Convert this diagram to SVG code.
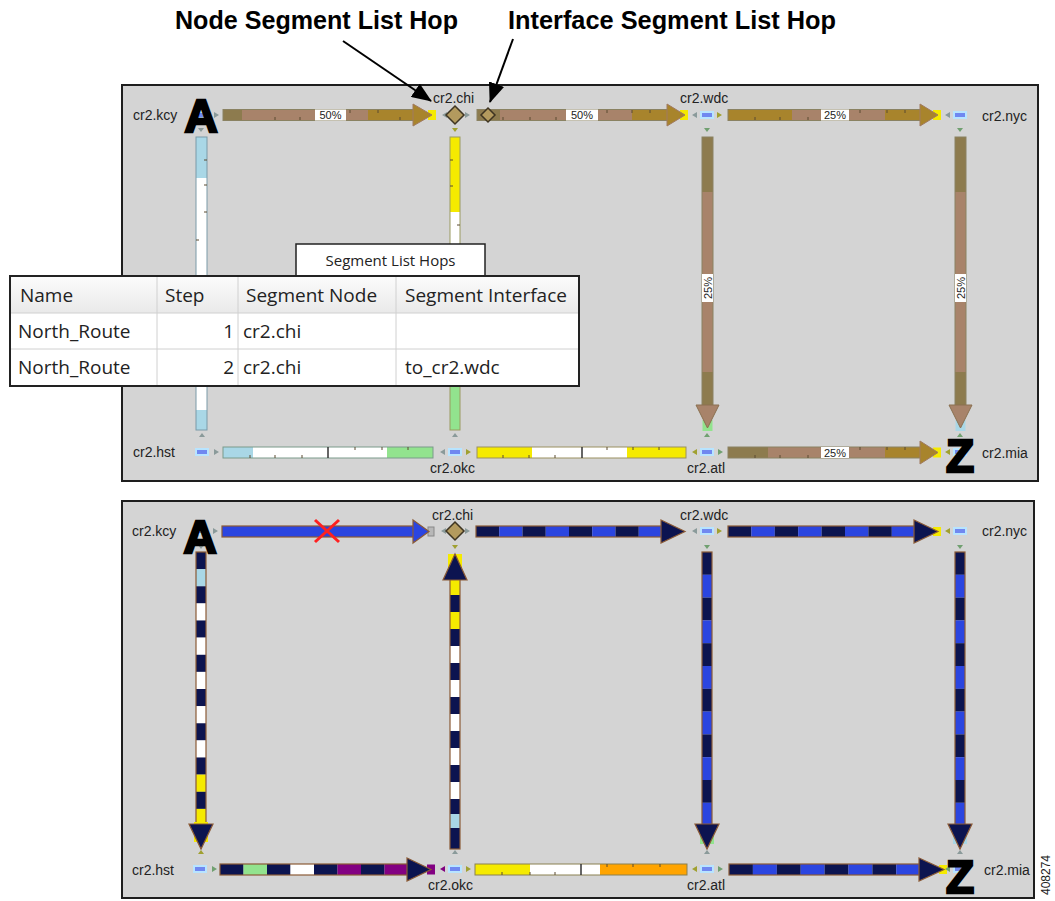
<svg xmlns="http://www.w3.org/2000/svg" width="1055" height="901" viewBox="0 0 1055 901">
<defs>
<style>
.panel{fill:#d4d4d4;stroke:#1e1e1e;stroke-width:2}
.lbl{font-family:"Liberation Sans",Tahoma,Arial,sans-serif;font-size:14px;fill:#222}
.title{font-family:"Liberation Sans",Arial,sans-serif;font-weight:bold;font-size:26px;fill:#000}
.big{font-family:"Liberation Sans",Arial,sans-serif;font-weight:bold;font-size:46px;fill:#000;stroke:#000;stroke-width:2.5;text-anchor:middle}
.pct{font-family:"Liberation Sans",Arial,sans-serif;font-size:11px;fill:#222;text-anchor:middle}
.pbox{fill:#fff}
.olv{fill:#8d7b4e}.rose{fill:#a8836a}.gold{fill:#a8842c}.ylw{fill:#f5ea00}.lb{fill:#a9d7e6}.wht{fill:#fff}.grn{fill:#92e38e}.nav{fill:#0c1450}.blu{fill:#2b45e0}.prp{fill:#820082}.org{fill:#ffa400}
.tubeT{fill:none;stroke:#8a8262;stroke-width:1}
.tubeB{fill:none;stroke:#8a5a36;stroke-width:1.2}
.hdB{stroke:#8a5a36;stroke-width:1.2}
.nd{fill:#7088f0;stroke:#b8e4ff;stroke-width:2}
.dia{fill:#b39a5e;stroke:#3e3422;stroke-width:1.5}
.mk{fill:#8a9a9a}
.mko{fill:#a0a030}
.mkg{fill:#70a070}
.tick{stroke:#5a4a30;stroke-width:1}
.div{stroke:#333;stroke-width:1.5}
.tb{font-family:"Open Sans","Liberation Sans",sans-serif;font-size:19px;fill:#222}
.grid{stroke:#d0d0d0;stroke-width:1}
.ann{stroke:#000;stroke-width:2;fill:none}
</style>
<marker id="ah" viewBox="0 0 20 16" markerWidth="20" markerHeight="16" refX="19" refY="8" orient="auto" markerUnits="userSpaceOnUse"><path d="M0,0 L20,8 L0,16 z" fill="#000"/></marker>
<linearGradient id="hdr" x1="0" y1="0" x2="0" y2="1"><stop offset="0" stop-color="#fbfbfb"/><stop offset="1" stop-color="#e9e9e9"/></linearGradient>
</defs>
<rect x="0" y="0" width="1055" height="901" fill="#fff"/>

<g id="annotations">
<text class="title" x="175" y="29" textLength="283" lengthAdjust="spacingAndGlyphs">Node Segment List Hop</text>
<text class="title" x="508" y="29" textLength="328" lengthAdjust="spacingAndGlyphs">Interface Segment List Hop</text>
</g>

<rect class="panel" x="122" y="85" width="916" height="396"/>
<rect class="panel" x="122" y="501" width="912" height="397"/>

<g id="connectors">
<!-- ===== TOP PANEL ===== -->
<rect class="olv" x="223" y="109.5" width="19" height="11"/>
<rect class="rose" x="242" y="109.5" width="126" height="11"/>
<rect class="gold" x="368" y="109.5" width="46" height="11"/>
<rect class="tubeT" x="223" y="109.5" width="191" height="11"/>
<rect class="ylw" x="428" y="110" width="8" height="10"/>
<path class="gold" d="M413,104 L432,115 L413,126 Z" stroke="#a07a60" stroke-width="1"/>
<path class="tick" d="M275,117v3M300,117v3M350,110v3M378,110v3M400,117v3"/>
<rect class="pbox" x="315" y="109.5" width="31" height="11"/><text class="pct" x="330.5" y="119">50%</text>
<rect class="olv" x="477" y="109.5" width="23" height="11"/>
<rect class="rose" x="500" y="109.5" width="132" height="11"/>
<rect class="gold" x="632" y="109.5" width="36" height="11"/>
<rect class="tubeT" x="477" y="109.5" width="191" height="11"/>
<rect class="ylw" x="680" y="110" width="8" height="10"/>
<path class="gold" d="M667,104 L685,115 L667,126 Z" stroke="#a07a60" stroke-width="1"/>
<path class="tick" d="M503,117v3M530,117v3M556,117v3M607,110v3M632,110v3M650,110v3"/>
<rect class="pbox" x="566" y="109.5" width="32" height="11"/><text class="pct" x="582" y="119">50%</text>
<rect class="gold" x="728" y="109.5" width="64" height="11"/>
<rect class="rose" x="792" y="109.5" width="93" height="11"/>
<rect class="gold" x="885" y="109.5" width="37" height="11"/>
<rect class="tubeT" x="728" y="109.5" width="194" height="11"/>
<rect class="ylw" x="933" y="110" width="8" height="10"/>
<path class="gold" d="M920,104 L938,115 L920,126 Z" stroke="#a07a60" stroke-width="1"/>
<path class="tick" d="M755,117v3M780,117v3M808,117v3M860,110v3M887,110v3M905,110v3"/>
<rect class="pbox" x="821" y="109.5" width="28" height="11"/><text class="pct" x="835" y="119">25%</text>
<rect class="lb" x="223" y="447" width="30" height="11"/>
<rect class="wht" x="253" y="447" width="134" height="11"/>
<rect class="grn" x="387" y="447" width="46" height="11"/>
<rect fill="none" stroke="#7a9a8a" stroke-width="1" x="223" y="447" width="210" height="11"/>
<path class="div" d="M328,447v11"/>
<path class="tick" d="M250,455v3M275,455v3M302,455v3M355,447v3M382,447v3M408,447v3"/>
<rect class="ylw" x="477" y="447" width="55" height="11"/>
<rect class="wht" x="532" y="447" width="95" height="11"/>
<rect class="ylw" x="627" y="447" width="59" height="11"/>
<rect fill="none" stroke="#9a9060" stroke-width="1" x="477" y="447" width="209" height="11"/>
<path class="div" d="M582,447v11"/>
<path class="tick" d="M503,455v3M529,455v3M555,455v3M607,447v3M633,447v3M659,447v3"/>
<rect class="olv" x="728" y="447" width="40" height="11"/>
<rect class="rose" x="768" y="447" width="117" height="11"/>
<rect class="gold" x="885" y="447" width="37" height="11"/>
<rect class="tubeT" x="728" y="447" width="194" height="11"/>
<rect class="ylw" x="933" y="447.5" width="8" height="10"/>
<path class="gold" d="M920,441 L938,452.5 L920,464 Z" stroke="#a07a60" stroke-width="1"/>
<path class="tick" d="M755,455v3M780,455v3M808,455v3M860,447v3M887,447v3M905,447v3"/>
<rect class="pbox" x="821" y="447" width="28" height="11"/><text class="pct" x="835" y="456.5">25%</text>
<rect class="lb" x="196" y="137" width="11" height="41"/>
<rect class="wht" x="196" y="178" width="11" height="232"/>
<rect class="lb" x="196" y="410" width="11" height="20"/>
<rect fill="none" stroke="#7a9aa8" stroke-width="1" x="196" y="137" width="11" height="293"/>
<path class="tick" d="M204,160h3M204,185h3M204,212h3M196,240h3"/>
<rect class="ylw" x="450" y="137" width="10" height="75"/>
<rect class="wht" x="450" y="212" width="10" height="90"/>
<rect class="grn" x="450" y="302" width="10" height="128"/>
<rect fill="none" stroke="#9a9a60" stroke-width="1" x="450" y="137" width="10" height="293"/>
<path class="tick" d="M450,160h3M450,186h3M457,225h3"/>
<rect class="olv" x="702" y="137" width="11" height="55"/>
<rect class="rose" x="702" y="192" width="11" height="180"/>
<rect class="olv" x="702" y="372" width="11" height="34"/>
<rect class="tubeT" x="702" y="137" width="11" height="269"/>
<rect class="grn" x="702.5" y="420" width="10" height="11"/>
<path class="rose" d="M696,405 L719,405 L707.5,428 Z" stroke="#8a7050" stroke-width="1"/>
<g transform="translate(707.5,288) rotate(-90)"><rect class="pbox" x="-14" y="-5.5" width="28" height="11"/><text class="pct" y="4">25%</text></g>
<rect class="olv" x="955" y="137" width="11" height="55"/>
<rect class="rose" x="955" y="192" width="11" height="180"/>
<rect class="olv" x="955" y="372" width="11" height="34"/>
<rect class="tubeT" x="955" y="137" width="11" height="269"/>
<rect class="lb" x="955.5" y="420" width="10" height="11"/>
<path class="rose" d="M949,405 L972,405 L960.5,428 Z" stroke="#8a7050" stroke-width="1"/>
<g transform="translate(960.5,288) rotate(-90)"><rect class="pbox" x="-14" y="-5.5" width="28" height="11"/><text class="pct" y="4">25%</text></g>
<path class="mk" d="M214,112L219,115L214,118Z M198,128h6l-3,4Z M442,115l5,-3v6Z M465,112l5,3l-5,3Z M692,115l5,-3v6Z M945,115l5,-3v6Z M199,437h6l-3,-4Z M214,449l5,3l-5,3Z M440,452l5,-3v6Z M452,437h6l-3,-4Z"/>
<path class="mko" d="M452,128h6l-3,4Z M717,112l5,3l-5,3Z M466,449l5,3l-5,3Z M692,452l5,-3v6Z M945,452l5,-3v6Z"/>
<path class="mkg" d="M704,128h6l-3,4Z M957,128h6l-3,4Z M718,449l5,3l-5,3Z M704,437h6l-3,-4Z M957,437h6l-3,-4Z"/>

<!-- ===== BOTTOM PANEL ===== -->
<rect class="blu" x="222" y="526" width="192" height="11"/>
<rect class="tubeB" x="222" y="526" width="192" height="11"/>
<rect x="428" y="527" width="6" height="9" fill="#b8b8b8" stroke="#888" stroke-width="1"/>
<path class="blu hdB" d="M413,520 L429,531.5 L413,543 Z"/>
<path d="M315,520 L339,542 M315,542 L339,520" stroke="#ff2020" stroke-width="3"/>
<rect class="nav" x="476" y="526" width="23.25" height="11"/><rect class="blu" x="499.25" y="526" width="23.25" height="11"/>
<rect class="nav" x="522.5" y="526" width="23.25" height="11"/><rect class="blu" x="545.75" y="526" width="23.25" height="11"/>
<rect class="nav" x="569" y="526" width="23.25" height="11"/><rect class="blu" x="592.25" y="526" width="23.25" height="11"/>
<rect class="nav" x="615.5" y="526" width="23.25" height="11"/><rect class="blu" x="638.75" y="526" width="23.25" height="11"/>
<rect class="tubeB" x="476" y="526" width="186" height="11"/>
<path class="nav hdB" d="M661,520 L685,531.5 L661,543 Z"/>
<rect class="nav" x="728" y="526" width="23.4" height="11"/><rect class="blu" x="751.4" y="526" width="23.4" height="11"/>
<rect class="nav" x="774.8" y="526" width="23.4" height="11"/><rect class="blu" x="798.2" y="526" width="23.4" height="11"/>
<rect class="nav" x="821.6" y="526" width="23.4" height="11"/><rect class="blu" x="845" y="526" width="23.4" height="11"/>
<rect class="nav" x="868.4" y="526" width="23.4" height="11"/><rect class="blu" x="891.8" y="526" width="23.2" height="11"/>
<rect class="tubeB" x="728" y="526" width="187" height="11"/>
<rect class="ylw" x="933" y="527" width="8" height="9"/>
<path class="nav hdB" d="M914,520 L938,531.5 L914,543 Z"/>
<rect class="nav" x="220" y="864" width="23.5" height="11"/><rect class="grn" x="243.5" y="864" width="23.5" height="11"/>
<rect class="nav" x="267" y="864" width="23.5" height="11"/><rect class="wht" x="290.5" y="864" width="23.5" height="11"/>
<rect class="nav" x="314" y="864" width="23.5" height="11"/><rect class="prp" x="337.5" y="864" width="23.5" height="11"/>
<rect class="nav" x="361" y="864" width="23.5" height="11"/><rect class="prp" x="384.5" y="864" width="23.5" height="11"/>
<rect class="tubeB" x="220" y="864" width="188" height="11"/>
<rect class="prp" x="427" y="864.5" width="8" height="10"/>
<path class="nav hdB" d="M407,858 L431,869.5 L407,881 Z"/>
<rect class="ylw" x="475" y="864" width="55" height="11"/>
<rect class="wht" x="530" y="864" width="70" height="11"/>
<rect class="org" x="600" y="864" width="87" height="11"/>
<rect fill="none" stroke="#8a8050" stroke-width="1" x="475" y="864" width="212" height="11"/>
<path class="div" d="M581,864v11"/>
<path class="tick" d="M502,872v3M530,872v3M555,872v3M607,864v3M633,864v3M660,864v3"/>
<rect class="nav" x="729" y="864" width="23.9" height="11"/><rect class="blu" x="752.9" y="864" width="23.9" height="11"/>
<rect class="nav" x="776.8" y="864" width="23.9" height="11"/><rect class="blu" x="800.7" y="864" width="23.9" height="11"/>
<rect class="nav" x="824.6" y="864" width="23.9" height="11"/><rect class="blu" x="848.5" y="864" width="23.9" height="11"/>
<rect class="nav" x="872.4" y="864" width="23.9" height="11"/><rect class="blu" x="896.3" y="864" width="23.7" height="11"/>
<rect class="tubeB" x="729" y="864" width="191" height="11"/>
<rect class="ylw" x="939" y="865" width="8" height="9"/>
<path class="nav hdB" d="M919,858 L944,869.5 L919,881 Z"/>
<rect class="nav" x="196" y="552" width="10" height="17.1"/><rect class="lb" x="196" y="569.1" width="10" height="17.2"/>
<rect class="nav" x="196" y="586.3" width="10" height="17.1"/><rect class="wht" x="196" y="603.4" width="10" height="17.1"/>
<rect class="nav" x="196" y="620.5" width="10" height="17.1"/><rect class="wht" x="196" y="637.6" width="10" height="17.2"/>
<rect class="nav" x="196" y="654.8" width="10" height="17.1"/><rect class="wht" x="196" y="671.9" width="10" height="17.1"/>
<rect class="nav" x="196" y="689" width="10" height="17.1"/><rect class="wht" x="196" y="706.1" width="10" height="17.2"/>
<rect class="nav" x="196" y="723.3" width="10" height="17.1"/><rect class="wht" x="196" y="740.4" width="10" height="17.1"/>
<rect class="nav" x="196" y="757.5" width="10" height="17.1"/><rect class="ylw" x="196" y="774.6" width="10" height="17.2"/>
<rect class="nav" x="196" y="791.8" width="10" height="17.1"/><rect class="ylw" x="196" y="808.9" width="10" height="17.1"/>
<rect class="tubeB" x="196" y="552" width="10" height="274"/>
<rect class="ylw" x="194" y="822" width="14" height="20"/>
<path class="nav hdB" d="M189,824 L213,824 L201,849 Z"/>
<rect class="ylw" x="450" y="578" width="10" height="17"/><rect class="nav" x="450" y="595" width="10" height="17"/>
<rect class="ylw" x="450" y="612" width="10" height="17"/><rect class="nav" x="450" y="629" width="10" height="17"/>
<rect class="wht" x="450" y="646" width="10" height="17"/><rect class="nav" x="450" y="663" width="10" height="17"/>
<rect class="wht" x="450" y="680" width="10" height="17"/><rect class="nav" x="450" y="697" width="10" height="17"/>
<rect class="wht" x="450" y="714" width="10" height="17"/><rect class="nav" x="450" y="731" width="10" height="17"/>
<rect class="wht" x="450" y="748" width="10" height="17"/><rect class="nav" x="450" y="765" width="10" height="17"/>
<rect class="wht" x="450" y="782" width="10" height="17"/><rect class="nav" x="450" y="799" width="10" height="15"/>
<rect class="lb" x="450" y="814" width="10" height="14"/><rect class="nav" x="450" y="828" width="10" height="21"/>
<rect class="tubeB" x="450" y="578" width="10" height="271"/>
<rect class="ylw" x="448" y="554" width="14" height="26"/>
<path class="nav hdB" d="M443,580 L467,580 L455,554 Z"/>
<rect class="nav" x="702" y="552" width="10" height="22.8"/><rect class="blu" x="702" y="574.8" width="10" height="22.8"/>
<rect class="nav" x="702" y="597.6" width="10" height="22.8"/><rect class="blu" x="702" y="620.4" width="10" height="22.8"/>
<rect class="nav" x="702" y="643.2" width="10" height="22.8"/><rect class="blu" x="702" y="666" width="10" height="22.8"/>
<rect class="nav" x="702" y="688.8" width="10" height="22.8"/><rect class="blu" x="702" y="711.6" width="10" height="22.8"/>
<rect class="nav" x="702" y="734.4" width="10" height="22.8"/><rect class="blu" x="702" y="757.2" width="10" height="22.8"/>
<rect class="nav" x="702" y="780" width="10" height="22.8"/><rect class="blu" x="702" y="802.8" width="10" height="23.2"/>
<rect class="tubeB" x="702" y="552" width="10" height="274"/>
<rect class="grn" x="700" y="830" width="14" height="14"/>
<path class="nav hdB" d="M695,824 L719,824 L707,849 Z"/>
<rect class="nav" x="955" y="552" width="10" height="22.8"/><rect class="blu" x="955" y="574.8" width="10" height="22.8"/>
<rect class="nav" x="955" y="597.6" width="10" height="22.8"/><rect class="blu" x="955" y="620.4" width="10" height="22.8"/>
<rect class="nav" x="955" y="643.2" width="10" height="22.8"/><rect class="blu" x="955" y="666" width="10" height="22.8"/>
<rect class="nav" x="955" y="688.8" width="10" height="22.8"/><rect class="blu" x="955" y="711.6" width="10" height="22.8"/>
<rect class="nav" x="955" y="734.4" width="10" height="22.8"/><rect class="blu" x="955" y="757.2" width="10" height="22.8"/>
<rect class="nav" x="955" y="780" width="10" height="22.8"/><rect class="blu" x="955" y="802.8" width="10" height="23.2"/>
<rect class="tubeB" x="955" y="552" width="10" height="274"/>
<rect class="lb" x="953" y="830" width="14" height="14"/>
<path class="nav hdB" d="M948,824 L972,824 L960,849 Z"/>
<path class="mk" d="M213,528l5,3l-5,3Z M441,531l5,-3v6Z M465,528l5,3l-5,3Z M692,531l5,-3v6Z M198,545h6l-3,4Z M452,854h6l-3,-4Z M704,854h6l-3,-4Z M957,854h6l-3,-4Z"/>
<path class="mko" d="M452,545h6l-3,4Z M717,528l5,3l-5,3Z M945,531l5,-3v6Z M198,854h6l-3,-4Z M466,866l5,3l-5,3Z M692,869l5,-3v6Z"/>
<path class="mkg" d="M704,545h6l-3,4Z M957,545h6l-3,4Z M212,866l5,3l-5,3Z M718,866l5,3l-5,3Z M945,869l5,-3v6Z"/>
<path fill="#800080" d="M440,869l5,-3v6Z"/>
</g>

<g id="annot-arrows">
<line class="ann" x1="343" y1="41" x2="431" y2="101" marker-end="url(#ah)"/>
<line class="ann" x1="513" y1="39" x2="490" y2="102" marker-end="url(#ah)"/>
</g>

<g id="t-kcy"><rect class="nd" x="196" y="112" width="11" height="6"/><text class="big" x="201" y="132">A</text><text class="lbl" x="133" y="120">cr2.kcy</text></g>
<g id="t-chi"><path class="dia" d="M455,106 L464,115 L455,124 L446,115 Z"/><text class="lbl" x="433" y="103">cr2.chi</text></g>
<g id="t-chi-if"><path class="dia" d="M488,108 L495,115 L488,122 L481,115 Z"/></g>
<g id="t-wdc"><rect class="nd" x="701" y="112" width="12" height="6"/><text class="lbl" x="680" y="103">cr2.wdc</text></g>
<g id="t-nyc"><rect class="nd" x="954" y="112" width="12" height="6"/><text class="lbl" x="982" y="121">cr2.nyc</text></g>
<g id="t-hst"><rect class="nd" x="196" y="449" width="12" height="6"/><text class="lbl" x="133" y="457">cr2.hst</text></g>
<g id="t-okc"><rect class="nd" x="449" y="449" width="12" height="6"/><text class="lbl" x="430" y="473">cr2.okc</text></g>
<g id="t-atl"><rect class="nd" x="701" y="449" width="12" height="6"/><text class="lbl" x="687" y="473">cr2.atl</text></g>
<g id="t-mia"><rect class="nd" x="954" y="449" width="12" height="6"/><text class="big" x="960" y="472">Z</text><text class="lbl" x="982" y="458">cr2.mia</text></g>

<g id="b-kcy"><rect class="nd" x="195" y="528" width="11" height="6"/><text class="big" x="200" y="553">A</text><text class="lbl" x="132" y="536">cr2.kcy</text></g>
<g id="b-chi"><path class="dia" d="M455,522 L464,531 L455,540 L446,531 Z"/><text class="lbl" x="432" y="520">cr2.chi</text></g>
<g id="b-wdc"><rect class="nd" x="701" y="528" width="12" height="6"/><text class="lbl" x="680" y="520">cr2.wdc</text></g>
<g id="b-nyc"><rect class="nd" x="954" y="528" width="12" height="6"/><text class="lbl" x="982" y="536">cr2.nyc</text></g>
<g id="b-hst"><rect class="nd" x="194" y="866" width="12" height="6"/><text class="lbl" x="132" y="875">cr2.hst</text></g>
<g id="b-okc"><rect class="nd" x="449" y="866" width="12" height="6"/><text class="lbl" x="428" y="890">cr2.okc</text></g>
<g id="b-atl"><rect class="nd" x="701" y="866" width="12" height="6"/><text class="lbl" x="687" y="890">cr2.atl</text></g>
<g id="b-mia"><rect class="nd" x="954" y="866" width="12" height="6"/><text class="big" x="960" y="893">Z</text><text class="lbl" x="984" y="875">cr2.mia</text></g>

<g id="segment-table">
<rect x="296" y="244" width="189" height="33" fill="#fff" stroke="#222" stroke-width="1.5"/>
<text x="390.5" y="266" text-anchor="middle" style="font-family:'Open Sans','Liberation Sans',sans-serif;font-size:15px;fill:#222">Segment List Hops</text>
<rect x="10" y="276" width="569" height="110" fill="#fff" stroke="#222" stroke-width="2"/>
<rect x="11" y="277" width="567" height="36" fill="url(#hdr)"/>
<path class="grid" d="M11,313H578M11,349H578M157,277V385M238,277V385M396,277V385"/>
<text class="tb" x="20" y="302">Name</text>
<text class="tb" x="165" y="302">Step</text>
<text class="tb" x="246" y="302">Segment Node</text>
<text class="tb" x="405" y="302">Segment Interface</text>
<text class="tb" x="18" y="338">North_Route</text>
<text class="tb" x="234" y="338" text-anchor="end">1</text>
<text class="tb" x="243" y="338">cr2.chi</text>
<text class="tb" x="18" y="374">North_Route</text>
<text class="tb" x="234" y="374" text-anchor="end">2</text>
<text class="tb" x="243" y="374">cr2.chi</text>
<text class="tb" x="405" y="374">to_cr2.wdc</text>
</g>

<text transform="translate(1050,875) rotate(-90)" text-anchor="middle" style="font-family:'Liberation Sans',Arial,sans-serif;font-size:12px;fill:#222">408274</text>
</svg>
